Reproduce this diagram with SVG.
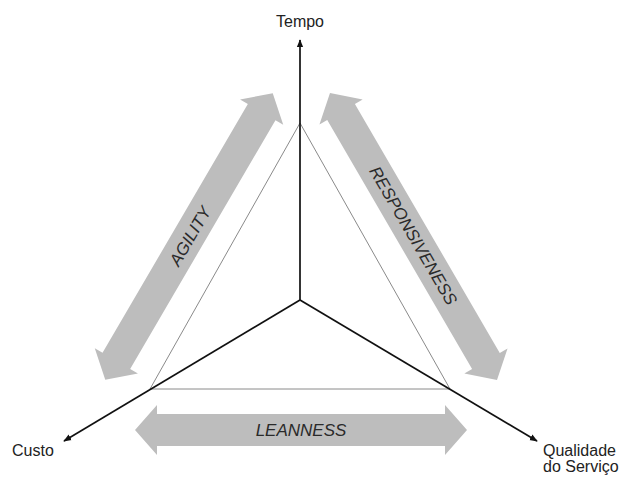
<svg xmlns="http://www.w3.org/2000/svg" width="621" height="477" viewBox="0 0 621 477">
<style>
.lbl{font-family:"Liberation Sans",Arial,sans-serif;font-size:16px;fill:#222}
.big{font-family:"Liberation Sans",Arial,sans-serif;font-size:17px;font-style:italic;fill:#2a2a2a}
.band{fill:#bdbdbd}
.axis{stroke:#111;stroke-width:1.7;fill:none}
.tri{stroke:#8a8a8a;stroke-width:1;fill:none}
</style>
<defs>
<marker id="ah" viewBox="0 0 10 10" refX="9" refY="5" markerWidth="8" markerHeight="8" markerUnits="userSpaceOnUse" orient="auto">
<path d="M0,1 L10,5 L0,9 Z" fill="#111"/>
</marker>
<polygon id="dbl" points="-166,0 -144,-25 -144,-16 144,-16 144,-25 166,0 144,25 144,16 -144,16 -144,25"/>
</defs>
<rect width="621" height="477" fill="#fff"/>
<g id="agility">
<use href="#dbl" class="band" transform="translate(189,236.5) rotate(-59.7)"/>
<text class="big" transform="translate(190,236) rotate(-59.7)" text-anchor="middle" dy="6">AGILITY</text>
</g>
<g id="responsiveness">
<use href="#dbl" class="band" transform="translate(413.5,236.5) rotate(59.8)"/>
<text class="big" transform="translate(413.5,235.5) rotate(59.8)" text-anchor="middle" dy="6">RESPONSIVENESS</text>
</g>
<g id="leanness">
<use href="#dbl" class="band" transform="translate(301,430)"/>
<text class="big" x="301" y="436" text-anchor="middle">LEANNESS</text>
</g>
<g id="triangle">
<polygon class="tri" points="300,123 150,389 450,389"/>
</g>
<g id="connectors">
<line class="axis" x1="300" y1="300" x2="300" y2="40" marker-end="url(#ah)"/>
<line class="axis" x1="300" y1="300" x2="64" y2="441" marker-end="url(#ah)"/>
<line class="axis" x1="300" y1="300" x2="537" y2="441" marker-end="url(#ah)"/>
</g>
<g id="tempo"><text class="lbl" x="300" y="27" text-anchor="middle">Tempo</text></g>
<g id="custo"><text class="lbl" x="12" y="456">Custo</text></g>
<g id="qualidade"><text class="lbl" x="543" y="456">Qualidade</text><text class="lbl" x="543" y="472">do Serviço</text></g>
</svg>
